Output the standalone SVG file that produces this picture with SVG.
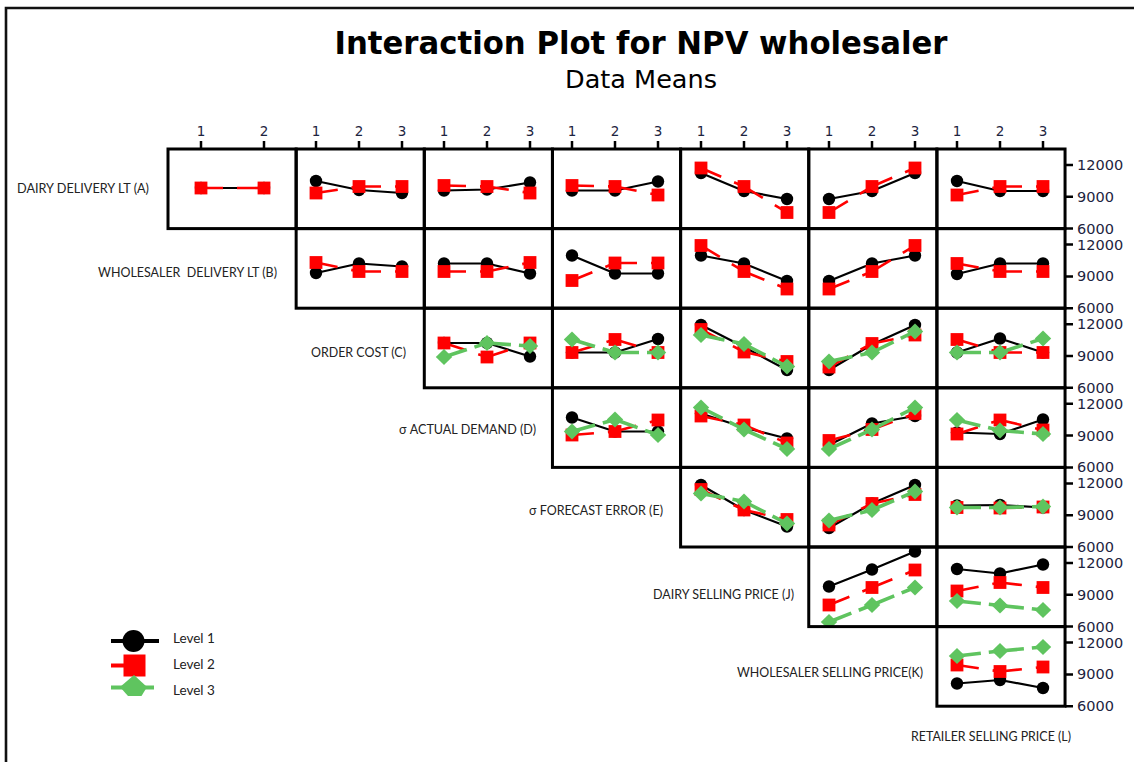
<svg xmlns="http://www.w3.org/2000/svg" xmlns:xlink="http://www.w3.org/1999/xlink" width="1134" height="762" viewBox="0 0 1134 762">
<defs>
<style>
.frame{fill:none;stroke:#111;stroke-width:2.6}
.panel{fill:none;stroke:#000;stroke-width:3}
.tick{stroke:#000;stroke-width:2.5}
.ax{font-family:"DejaVu Sans",Verdana,sans-serif;fill:#1d2440}
.xt{font-size:13.5px;text-anchor:middle}
.yt{font-size:14.5px}
.lab{font-family:Lato,"Open Sans",sans-serif;font-size:13.5px;fill:#222;text-anchor:end}
.leg{font-family:Lato,"Open Sans",sans-serif;font-size:13.5px;fill:#222}
.l1{fill:none;stroke:#000;stroke-width:2.2}
.l2{fill:none;stroke:#f00;stroke-width:2.6;stroke-dasharray:22 14}
.l3{fill:none;stroke:#5fc45f;stroke-width:3.6;stroke-dasharray:24 8}
</style>
<circle id="m1" r="6.2" fill="#000"/>
<rect id="m2" x="-6.4" y="-6.4" width="12.8" height="12.8" fill="#f00"/>
<path id="m3" d="M0-8L8.2 0L0 8L-8.2 0Z" fill="#5fc45f"/>
<clipPath id="clipJK"><rect x="808.75" y="547" width="128.15" height="79.6"/></clipPath>
</defs>

<rect width="1134" height="762" fill="#fff"/>
<path class="frame" d="M6 762V8H1134"/>

<!-- titles -->
<g id="title">
<text x="641" y="54" text-anchor="middle" font-family="'DejaVu Sans',Verdana,sans-serif" font-weight="bold" font-size="32" textLength="613" lengthAdjust="spacingAndGlyphs" fill="#000">Interaction Plot for NPV wholesaler</text>
<text x="641" y="88" text-anchor="middle" font-family="'DejaVu Sans',Verdana,sans-serif" font-size="24" textLength="152" lengthAdjust="spacingAndGlyphs" fill="#000">Data Means</text>
</g>

<!-- top axis: level ticks for each column factor -->
<g id="x-axis">
<path class="tick" d="M201 141V149M264 141V149M316 141V149M359 141V149M402 141V149M444 141V149M487 141V149M530 141V149M572 141V149M615 141V149M658 141V149M701 141V149M744 141V149M787 141V149M829 141V149M872 141V149M915 141V149M957 141V149M1000 141V149M1043 141V149"/>
<g class="ax xt">
<text x="201" y="136">1</text><text x="264" y="136">2</text>
<text x="316" y="136">1</text><text x="359" y="136">2</text><text x="402" y="136">3</text>
<text x="444" y="136">1</text><text x="487" y="136">2</text><text x="530" y="136">3</text>
<text x="572" y="136">1</text><text x="615" y="136">2</text><text x="658" y="136">3</text>
<text x="701" y="136">1</text><text x="744" y="136">2</text><text x="787" y="136">3</text>
<text x="829" y="136">1</text><text x="872" y="136">2</text><text x="915" y="136">3</text>
<text x="957" y="136">1</text><text x="1000" y="136">2</text><text x="1043" y="136">3</text>
</g>
</g>

<!-- right axis: response scale for each row -->
<g id="y-axis">
<path class="tick" d="M1065 165H1073M1065 196.8H1073M1065 228.6H1073M1065 244.6H1073M1065 276.4H1073M1065 308.2H1073M1065 324.2H1073M1065 356H1073M1065 387.8H1073M1065 403.8H1073M1065 435.6H1073M1065 467.4H1073M1065 483.4H1073M1065 515.2H1073M1065 547H1073M1065 563H1073M1065 594.8H1073M1065 626.6H1073M1065 642.6H1073M1065 674.4H1073M1065 706.2H1073"/>
<g class="ax yt">
<text x="1077" y="170">12000</text><text x="1077" y="201.8">9000</text><text x="1077" y="233.6">6000</text>
<text x="1077" y="249.6">12000</text><text x="1077" y="281.4">9000</text><text x="1077" y="313.2">6000</text>
<text x="1077" y="329.2">12000</text><text x="1077" y="361">9000</text><text x="1077" y="392.8">6000</text>
<text x="1077" y="408.8">12000</text><text x="1077" y="440.6">9000</text><text x="1077" y="472.4">6000</text>
<text x="1077" y="488.4">12000</text><text x="1077" y="520.2">9000</text><text x="1077" y="552">6000</text>
<text x="1077" y="568">12000</text><text x="1077" y="599.8">9000</text><text x="1077" y="631.6">6000</text>
<text x="1077" y="647.6">12000</text><text x="1077" y="679.4">9000</text><text x="1077" y="711.2">6000</text>
</g>
</g>

<!-- factor names -->
<g id="factor-labels" class="lab">
<text x="149" y="193" textLength="132" lengthAdjust="spacingAndGlyphs">DAIRY DELIVERY LT (A)</text>
<text x="277" y="277" textLength="179" lengthAdjust="spacingAndGlyphs" xml:space="preserve">WHOLESALER  DELIVERY LT (B)</text>
<text x="406" y="357" textLength="95" lengthAdjust="spacingAndGlyphs">ORDER COST (C)</text>
<text x="536" y="434" textLength="137" lengthAdjust="spacingAndGlyphs">σ ACTUAL DEMAND (D)</text>
<text x="663" y="515" textLength="134" lengthAdjust="spacingAndGlyphs">σ FORECAST ERROR (E)</text>
<text x="794" y="599" textLength="141" lengthAdjust="spacingAndGlyphs">DAIRY SELLING PRICE (J)</text>
<text x="923" y="677" textLength="186" lengthAdjust="spacingAndGlyphs">WHOLESALER SELLING PRICE(K)</text>
<text x="1071" y="741" textLength="160" lengthAdjust="spacingAndGlyphs">RETAILER SELLING PRICE (L)</text>
</g>

<!-- row A -->
<g id="panel-A-B">
<path class="l1" d="M201 188L264 188"/>
<use href="#m1" x="201" y="188"/><use href="#m1" x="264" y="188"/>
<path class="l2" d="M201 188L264 188"/>
<use href="#m2" x="201" y="188"/><use href="#m2" x="264" y="188"/>
<rect class="panel" x="168" y="149" width="128.15" height="79.6"/>
</g>
<g id="panel-A-C">
<path class="l1" d="M316 181L359 190M359 190L402 193"/>
<use href="#m1" x="316" y="181"/><use href="#m1" x="359" y="190"/><use href="#m1" x="402" y="193"/>
<path class="l2" d="M316 193L359 186.5M359 186.5L402 186.5"/>
<use href="#m2" x="316" y="193"/><use href="#m2" x="359" y="186.5"/><use href="#m2" x="402" y="186.5"/>
<rect class="panel" x="296.15" y="149" width="128.15" height="79.6"/>
</g>
<g id="panel-A-D">
<path class="l1" d="M444 190.5L487 189.5M487 189.5L530 182.5"/>
<use href="#m1" x="444" y="190.5"/><use href="#m1" x="487" y="189.5"/><use href="#m1" x="530" y="182.5"/>
<path class="l2" d="M444 185.5L487 186.5M487 186.5L530 193"/>
<use href="#m2" x="444" y="185.5"/><use href="#m2" x="487" y="186.5"/><use href="#m2" x="530" y="193"/>
<rect class="panel" x="424.3" y="149" width="128.15" height="79.6"/>
</g>
<g id="panel-A-E">
<path class="l1" d="M572 190.5L615 190.5M615 190.5L658 181.5"/>
<use href="#m1" x="572" y="190.5"/><use href="#m1" x="615" y="190.5"/><use href="#m1" x="658" y="181.5"/>
<path class="l2" d="M572 185.5L615 186.5M615 186.5L658 195"/>
<use href="#m2" x="572" y="185.5"/><use href="#m2" x="615" y="186.5"/><use href="#m2" x="658" y="195"/>
<rect class="panel" x="552.45" y="149" width="128.15" height="79.6"/>
</g>
<g id="panel-A-J">
<path class="l1" d="M701 173L744 191M744 191L787 199"/>
<use href="#m1" x="701" y="173"/><use href="#m1" x="744" y="191"/><use href="#m1" x="787" y="199"/>
<path class="l2" d="M701 168L744 186.5M744 186.5L787 212.5"/>
<use href="#m2" x="701" y="168"/><use href="#m2" x="744" y="186.5"/><use href="#m2" x="787" y="212.5"/>
<rect class="panel" x="680.6" y="149" width="128.15" height="79.6"/>
</g>
<g id="panel-A-K">
<path class="l1" d="M829 199L872 191M872 191L915 173"/>
<use href="#m1" x="829" y="199"/><use href="#m1" x="872" y="191"/><use href="#m1" x="915" y="173"/>
<path class="l2" d="M829 212.5L872 186.5M872 186.5L915 168"/>
<use href="#m2" x="829" y="212.5"/><use href="#m2" x="872" y="186.5"/><use href="#m2" x="915" y="168"/>
<rect class="panel" x="808.75" y="149" width="128.15" height="79.6"/>
</g>
<g id="panel-A-L">
<path class="l1" d="M957 181L1000 191M1000 191L1043 191"/>
<use href="#m1" x="957" y="181"/><use href="#m1" x="1000" y="191"/><use href="#m1" x="1043" y="191"/>
<path class="l2" d="M957 195L1000 186.5M1000 186.5L1043 186.5"/>
<use href="#m2" x="957" y="195"/><use href="#m2" x="1000" y="186.5"/><use href="#m2" x="1043" y="186.5"/>
<rect class="panel" x="936.9" y="149" width="128.15" height="79.6"/>
</g>

<!-- row B -->
<g id="panel-B-C">
<path class="l1" d="M316 273L359 263.5M359 263.5L402 266.5"/>
<use href="#m1" x="316" y="273"/><use href="#m1" x="359" y="263.5"/><use href="#m1" x="402" y="266.5"/>
<path class="l2" d="M316 262.5L359 271.5M359 271.5L402 271.5"/>
<use href="#m2" x="316" y="262.5"/><use href="#m2" x="359" y="271.5"/><use href="#m2" x="402" y="271.5"/>
<rect class="panel" x="296.15" y="228.6" width="128.15" height="79.6"/>
</g>
<g id="panel-B-D">
<path class="l1" d="M444 263.5L487 263.5M487 263.5L530 273.5"/>
<use href="#m1" x="444" y="263.5"/><use href="#m1" x="487" y="263.5"/><use href="#m1" x="530" y="273.5"/>
<path class="l2" d="M444 271.5L487 271.5M487 271.5L530 262.5"/>
<use href="#m2" x="444" y="271.5"/><use href="#m2" x="487" y="271.5"/><use href="#m2" x="530" y="262.5"/>
<rect class="panel" x="424.3" y="228.6" width="128.15" height="79.6"/>
</g>
<g id="panel-B-E">
<path class="l1" d="M572 255.5L615 273.5M615 273.5L658 273.5"/>
<use href="#m1" x="572" y="255.5"/><use href="#m1" x="615" y="273.5"/><use href="#m1" x="658" y="273.5"/>
<path class="l2" d="M572 280.5L615 263M615 263L658 263"/>
<use href="#m2" x="572" y="280.5"/><use href="#m2" x="615" y="263"/><use href="#m2" x="658" y="263"/>
<rect class="panel" x="552.45" y="228.6" width="128.15" height="79.6"/>
</g>
<g id="panel-B-J">
<path class="l1" d="M701 255.5L744 263.5M744 263.5L787 281"/>
<use href="#m1" x="701" y="255.5"/><use href="#m1" x="744" y="263.5"/><use href="#m1" x="787" y="281"/>
<path class="l2" d="M701 245.5L744 271.5M744 271.5L787 289"/>
<use href="#m2" x="701" y="245.5"/><use href="#m2" x="744" y="271.5"/><use href="#m2" x="787" y="289"/>
<rect class="panel" x="680.6" y="228.6" width="128.15" height="79.6"/>
</g>
<g id="panel-B-K">
<path class="l1" d="M829 281L872 263.5M872 263.5L915 255.5"/>
<use href="#m1" x="829" y="281"/><use href="#m1" x="872" y="263.5"/><use href="#m1" x="915" y="255.5"/>
<path class="l2" d="M829 289L872 271.5M872 271.5L915 245.5"/>
<use href="#m2" x="829" y="289"/><use href="#m2" x="872" y="271.5"/><use href="#m2" x="915" y="245.5"/>
<rect class="panel" x="808.75" y="228.6" width="128.15" height="79.6"/>
</g>
<g id="panel-B-L">
<path class="l1" d="M957 274L1000 263.5M1000 263.5L1043 263.5"/>
<use href="#m1" x="957" y="274"/><use href="#m1" x="1000" y="263.5"/><use href="#m1" x="1043" y="263.5"/>
<path class="l2" d="M957 263.5L1000 271.5M1000 271.5L1043 271.5"/>
<use href="#m2" x="957" y="263.5"/><use href="#m2" x="1000" y="271.5"/><use href="#m2" x="1043" y="271.5"/>
<rect class="panel" x="936.9" y="228.6" width="128.15" height="79.6"/>
</g>

<!-- row C -->
<g id="panel-C-D">
<path class="l1" d="M444 343L487 343M487 343L530 356.5"/>
<use href="#m1" x="444" y="343"/><use href="#m1" x="487" y="343"/><use href="#m1" x="530" y="356.5"/>
<path class="l2" d="M444 343L487 357M487 357L530 343"/>
<use href="#m2" x="444" y="343"/><use href="#m2" x="487" y="357"/><use href="#m2" x="530" y="343"/>
<path class="l3" d="M444 357L487 343M487 343L530 346"/>
<use href="#m3" x="444" y="357"/><use href="#m3" x="487" y="343"/><use href="#m3" x="530" y="346"/>
<rect class="panel" x="424.3" y="308.2" width="128.15" height="79.6"/>
</g>
<g id="panel-C-E">
<path class="l1" d="M572 352.5L615 352.5M615 352.5L658 339"/>
<use href="#m1" x="572" y="352.5"/><use href="#m1" x="615" y="352.5"/><use href="#m1" x="658" y="339"/>
<path class="l2" d="M572 352.5L615 339.5M615 339.5L658 352.5"/>
<use href="#m2" x="572" y="352.5"/><use href="#m2" x="615" y="339.5"/><use href="#m2" x="658" y="352.5"/>
<path class="l3" d="M572 339.5L615 352.5M615 352.5L658 352.5"/>
<use href="#m3" x="572" y="339.5"/><use href="#m3" x="615" y="352.5"/><use href="#m3" x="658" y="352.5"/>
<rect class="panel" x="552.45" y="308.2" width="128.15" height="79.6"/>
</g>
<g id="panel-C-J">
<path class="l1" d="M701 325L744 347M744 347L787 370"/>
<use href="#m1" x="701" y="325"/><use href="#m1" x="744" y="347"/><use href="#m1" x="787" y="370"/>
<path class="l2" d="M701 329.5L744 352M744 352L787 361.5"/>
<use href="#m2" x="701" y="329.5"/><use href="#m2" x="744" y="352"/><use href="#m2" x="787" y="361.5"/>
<path class="l3" d="M701 335L744 344M744 344L787 366.5"/>
<use href="#m3" x="701" y="335"/><use href="#m3" x="744" y="344"/><use href="#m3" x="787" y="366.5"/>
<rect class="panel" x="680.6" y="308.2" width="128.15" height="79.6"/>
</g>
<g id="panel-C-K">
<path class="l1" d="M829 370L872 344.5M872 344.5L915 325"/>
<use href="#m1" x="829" y="370"/><use href="#m1" x="872" y="344.5"/><use href="#m1" x="915" y="325"/>
<path class="l2" d="M829 367L872 343.5M872 343.5L915 335"/>
<use href="#m2" x="829" y="367"/><use href="#m2" x="872" y="343.5"/><use href="#m2" x="915" y="335"/>
<path class="l3" d="M829 361.5L872 352.5M872 352.5L915 331.5"/>
<use href="#m3" x="829" y="361.5"/><use href="#m3" x="872" y="352.5"/><use href="#m3" x="915" y="331.5"/>
<rect class="panel" x="808.75" y="308.2" width="128.15" height="79.6"/>
</g>
<g id="panel-C-L">
<path class="l1" d="M957 352.5L1000 338.5M1000 338.5L1043 352.5"/>
<use href="#m1" x="957" y="352.5"/><use href="#m1" x="1000" y="338.5"/><use href="#m1" x="1043" y="352.5"/>
<path class="l2" d="M957 339.5L1000 352.5M1000 352.5L1043 352.5"/>
<use href="#m2" x="957" y="339.5"/><use href="#m2" x="1000" y="352.5"/><use href="#m2" x="1043" y="352.5"/>
<path class="l3" d="M957 352.5L1000 352.5M1000 352.5L1043 338.5"/>
<use href="#m3" x="957" y="352.5"/><use href="#m3" x="1000" y="352.5"/><use href="#m3" x="1043" y="338.5"/>
<rect class="panel" x="936.9" y="308.2" width="128.15" height="79.6"/>
</g>

<!-- row D -->
<g id="panel-D-E">
<path class="l1" d="M572 417.5L615 431.5M615 431.5L658 431.5"/>
<use href="#m1" x="572" y="417.5"/><use href="#m1" x="615" y="431.5"/><use href="#m1" x="658" y="431.5"/>
<path class="l2" d="M572 435L615 431.5M615 431.5L658 420"/>
<use href="#m2" x="572" y="435"/><use href="#m2" x="615" y="431.5"/><use href="#m2" x="658" y="420"/>
<path class="l3" d="M572 431.5L615 419.5M615 419.5L658 435"/>
<use href="#m3" x="572" y="431.5"/><use href="#m3" x="615" y="419.5"/><use href="#m3" x="658" y="435"/>
<rect class="panel" x="552.45" y="387.8" width="128.15" height="79.6"/>
</g>
<g id="panel-D-J">
<path class="l1" d="M701 413.5L744 427.5M744 427.5L787 438.5"/>
<use href="#m1" x="701" y="413.5"/><use href="#m1" x="744" y="427.5"/><use href="#m1" x="787" y="438.5"/>
<path class="l2" d="M701 416L744 425M744 425L787 443"/>
<use href="#m2" x="701" y="416"/><use href="#m2" x="744" y="425"/><use href="#m2" x="787" y="443"/>
<path class="l3" d="M701 407.5L744 429.5M744 429.5L787 449"/>
<use href="#m3" x="701" y="407.5"/><use href="#m3" x="744" y="429.5"/><use href="#m3" x="787" y="449"/>
<rect class="panel" x="680.6" y="387.8" width="128.15" height="79.6"/>
</g>
<g id="panel-D-K">
<path class="l1" d="M829 445L872 423.5M872 423.5L915 416"/>
<use href="#m1" x="829" y="445"/><use href="#m1" x="872" y="423.5"/><use href="#m1" x="915" y="416"/>
<path class="l2" d="M829 440.5L872 429.5M872 429.5L915 413.5"/>
<use href="#m2" x="829" y="440.5"/><use href="#m2" x="872" y="429.5"/><use href="#m2" x="915" y="413.5"/>
<path class="l3" d="M829 449L872 429.5M872 429.5L915 407.5"/>
<use href="#m3" x="829" y="449"/><use href="#m3" x="872" y="429.5"/><use href="#m3" x="915" y="407.5"/>
<rect class="panel" x="808.75" y="387.8" width="128.15" height="79.6"/>
</g>
<g id="panel-D-L">
<path class="l1" d="M957 432.5L1000 434M1000 434L1043 419.5"/>
<use href="#m1" x="957" y="432.5"/><use href="#m1" x="1000" y="434"/><use href="#m1" x="1043" y="419.5"/>
<path class="l2" d="M957 434L1000 420M1000 420L1043 430"/>
<use href="#m2" x="957" y="434"/><use href="#m2" x="1000" y="420"/><use href="#m2" x="1043" y="430"/>
<path class="l3" d="M957 420L1000 430.5M1000 430.5L1043 434"/>
<use href="#m3" x="957" y="420"/><use href="#m3" x="1000" y="430.5"/><use href="#m3" x="1043" y="434"/>
<rect class="panel" x="936.9" y="387.8" width="128.15" height="79.6"/>
</g>

<!-- row E -->
<g id="panel-E-J">
<path class="l1" d="M701 485L744 510M744 510L787 526.5"/>
<use href="#m1" x="701" y="485"/><use href="#m1" x="744" y="510"/><use href="#m1" x="787" y="526.5"/>
<path class="l2" d="M701 489.5L744 510M744 510L787 519.5"/>
<use href="#m2" x="701" y="489.5"/><use href="#m2" x="744" y="510"/><use href="#m2" x="787" y="519.5"/>
<path class="l3" d="M701 493.5L744 501.5M744 501.5L787 523.5"/>
<use href="#m3" x="701" y="493.5"/><use href="#m3" x="744" y="501.5"/><use href="#m3" x="787" y="523.5"/>
<rect class="panel" x="680.6" y="467.4" width="128.15" height="79.6"/>
</g>
<g id="panel-E-K">
<path class="l1" d="M829 528L872 503.5M872 503.5L915 485"/>
<use href="#m1" x="829" y="528"/><use href="#m1" x="872" y="503.5"/><use href="#m1" x="915" y="485"/>
<path class="l2" d="M829 525L872 503.5M872 503.5L915 494.5"/>
<use href="#m2" x="829" y="525"/><use href="#m2" x="872" y="503.5"/><use href="#m2" x="915" y="494.5"/>
<path class="l3" d="M829 520.5L872 510M872 510L915 491.5"/>
<use href="#m3" x="829" y="520.5"/><use href="#m3" x="872" y="510"/><use href="#m3" x="915" y="491.5"/>
<rect class="panel" x="808.75" y="467.4" width="128.15" height="79.6"/>
</g>
<g id="panel-E-L">
<path class="l1" d="M957 505.5L1000 505M1000 505L1043 507.5"/>
<use href="#m1" x="957" y="505.5"/><use href="#m1" x="1000" y="505"/><use href="#m1" x="1043" y="507.5"/>
<path class="l2" d="M957 507.5L1000 508M1000 508L1043 507"/>
<use href="#m2" x="957" y="507.5"/><use href="#m2" x="1000" y="508"/><use href="#m2" x="1043" y="507"/>
<path class="l3" d="M957 507.5L1000 507.5M1000 507.5L1043 506.5"/>
<use href="#m3" x="957" y="507.5"/><use href="#m3" x="1000" y="507.5"/><use href="#m3" x="1043" y="506.5"/>
<rect class="panel" x="936.9" y="467.4" width="128.15" height="79.6"/>
</g>

<!-- row J -->
<g id="panel-J-K">
<g clip-path="url(#clipJK)">
<path class="l1" d="M829 586.5L872 569.5M872 569.5L915 551.5"/>
<use href="#m1" x="829" y="586.5"/><use href="#m1" x="872" y="569.5"/><use href="#m1" x="915" y="551.5"/>
<path class="l2" d="M829 605L872 587.5M872 587.5L915 570"/>
<use href="#m2" x="829" y="605"/><use href="#m2" x="872" y="587.5"/><use href="#m2" x="915" y="570"/>
<path class="l3" d="M829 622L872 605M872 605L915 587.5"/>
<use href="#m3" x="829" y="622"/><use href="#m3" x="872" y="605"/><use href="#m3" x="915" y="587.5"/>
</g>
<rect class="panel" x="808.75" y="547" width="128.15" height="79.6"/>
</g>
<g id="panel-J-L">
<path class="l1" d="M957 569L1000 573.5M1000 573.5L1043 564.5"/>
<use href="#m1" x="957" y="569"/><use href="#m1" x="1000" y="573.5"/><use href="#m1" x="1043" y="564.5"/>
<path class="l2" d="M957 591L1000 582.5M1000 582.5L1043 587.5"/>
<use href="#m2" x="957" y="591"/><use href="#m2" x="1000" y="582.5"/><use href="#m2" x="1043" y="587.5"/>
<path class="l3" d="M957 601L1000 605.5M1000 605.5L1043 610"/>
<use href="#m3" x="957" y="601"/><use href="#m3" x="1000" y="605.5"/><use href="#m3" x="1043" y="610"/>
<rect class="panel" x="936.9" y="547" width="128.15" height="79.6"/>
</g>

<!-- row K -->
<g id="panel-K-L">
<path class="l1" d="M957 683.5L1000 680M1000 680L1043 688"/>
<use href="#m1" x="957" y="683.5"/><use href="#m1" x="1000" y="680"/><use href="#m1" x="1043" y="688"/>
<path class="l2" d="M957 665L1000 671.5M1000 671.5L1043 667"/>
<use href="#m2" x="957" y="665"/><use href="#m2" x="1000" y="671.5"/><use href="#m2" x="1043" y="667"/>
<path class="l3" d="M957 656L1000 651M1000 651L1043 647"/>
<use href="#m3" x="957" y="656"/><use href="#m3" x="1000" y="651"/><use href="#m3" x="1043" y="647"/>
<rect class="panel" x="936.9" y="626.6" width="128.15" height="79.6"/>
</g>

<!-- legend -->
<g id="legend">
<path d="M111 641H159" stroke="#000" stroke-width="4"/>
<circle cx="133.5" cy="641" r="11" fill="#000"/>
<path d="M111 665.5H124" stroke="#f00" stroke-width="4"/>
<rect x="123.5" y="654.5" width="22" height="22" fill="#f00"/>
<path d="M111 687.5H154" stroke="#5fc45f" stroke-width="4"/>
<polygon points="120,687 134,675 147,687 141.5,696 128,696" fill="#5fc45f"/>
<text class="leg" x="173" y="643">Level 1</text>
<text class="leg" x="173" y="668.5">Level 2</text>
<text class="leg" x="173" y="694.5">Level 3</text>
</g>
</svg>
